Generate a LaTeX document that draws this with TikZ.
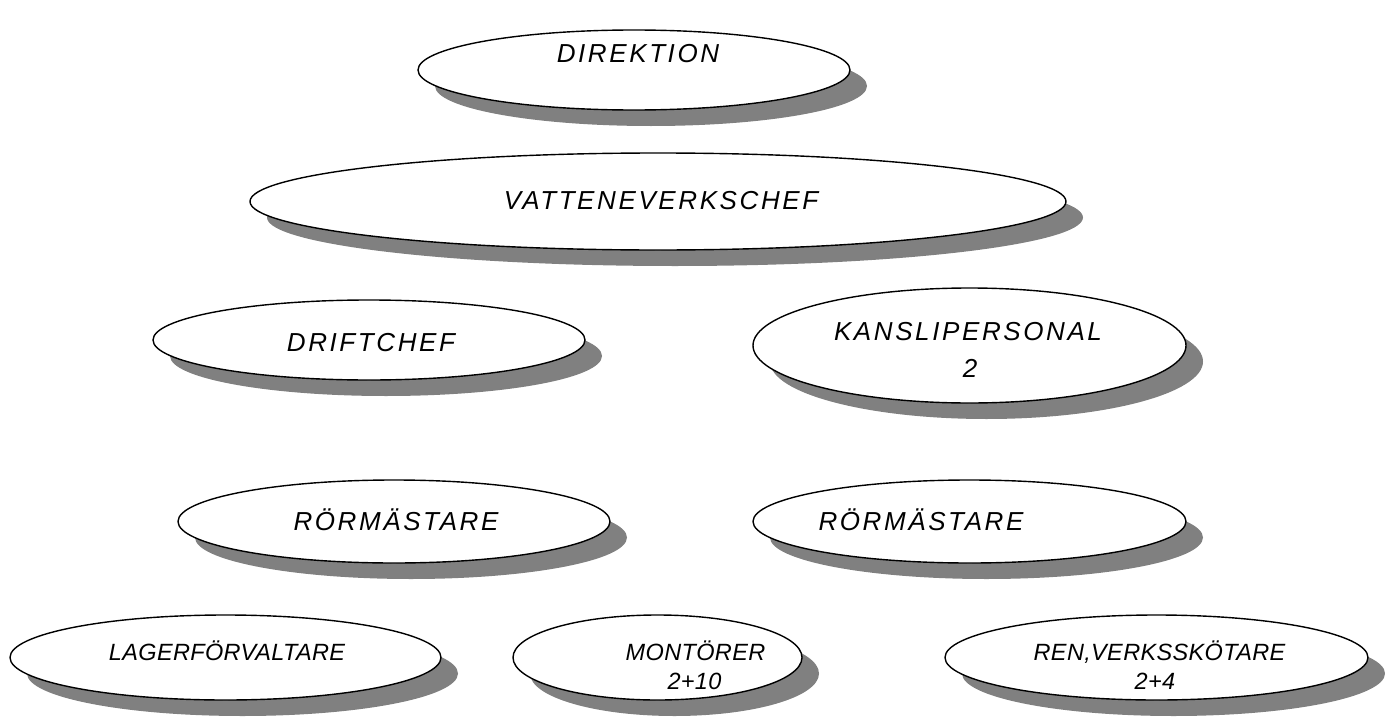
\documentclass[tikz,border=0pt]{standalone}
\usepackage{fontspec}
\setmainfont{Liberation Sans}
\usetikzlibrary{shapes.geometric,shadows}
\newfontfamily\lblfont[LetterSpace=10]{Liberation Sans}
\newfontfamily\smlfont[LetterSpace=1.5]{Liberation Sans}
\definecolor{shadowgray}{RGB}{128,128,128}
\tikzset{
  oval/.style={ellipse, draw=black, line width=1.4pt, fill=white, inner sep=0pt,
    drop shadow={shadow xshift=17pt, shadow yshift=-16pt, fill=shadowgray, opacity=1}},
  big/.style={font=\lblfont\itshape\fontsize{26}{30}\selectfont, text height=18.6pt, text depth=0pt, inner sep=0pt},
  small/.style={font=\smlfont\itshape\fontsize{23.5}{27}\selectfont, text height=16.8pt, text depth=0pt, inner sep=0pt}
}
\begin{document}
\begin{tikzpicture}[x=1pt,y=1pt]
\useasboundingbox (0,0) rectangle (1385,-720);
\node[oval, minimum width=432pt, minimum height=80pt] (dir) at (634,-70) {};
\node[oval, minimum width=816pt, minimum height=97pt] (vat) at (658,-201.5) {};
\node[oval, minimum width=432pt, minimum height=80pt] (drift) at (369,-340) {};
\node[oval, minimum width=433pt, minimum height=115pt] (kansli) at (969.5,-345.5) {};
\node[oval, minimum width=432pt, minimum height=83pt] (rorl) at (394,-521.5) {};
\node[oval, minimum width=433pt, minimum height=83pt] (rorr) at (969.5,-521.5) {};
\node[oval, minimum width=431pt, minimum height=85pt] (lager) at (225.5,-657.5) {};
\node[oval, minimum width=289pt, minimum height=85pt] (mont) at (657.5,-657.5) {};
\node[oval, minimum width=423pt, minimum height=85pt] (ren) at (1156.5,-657.5) {};

\node[big] (tdir) at (638,-53.5) {DIREKTION};
\node[big] (tvat) at (661,-200) {VATTENEVERKSCHEF};
\node[big] (tdrift) at (371,-342) {DRIFTCHEF};
\node[big] (tkansli1) at (968,-331) {KANSLIPERSONAL};
\node[big] (tkansli2) at (970,-368) {2};
\node[big] (trorl) at (396,-521) {RÖRMÄSTARE};
\node[big] (trorr) at (921,-521) {RÖRMÄSTARE};
\node[small] (tlager) at (227,-652) {LAGERFÖRVALTARE};
\node[small] (tmont1) at (695.5,-652) {MONTÖRER};
\node[small] (tmont2) at (694.5,-681) {2+10};
\node[small] (tren1) at (1159.5,-652) {REN,VERKSSKÖTARE};
\node[small] (tren2) at (1155,-681) {2+4};
\end{tikzpicture}
\end{document}
